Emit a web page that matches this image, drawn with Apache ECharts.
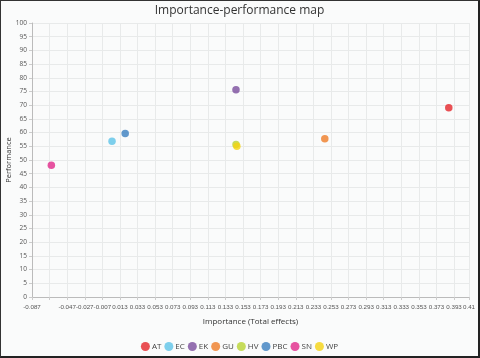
<!DOCTYPE html>
<html><head><meta charset="utf-8">
<script src="https://cdn.jsdelivr.net/npm/echarts@6/dist/echarts.min.js"></script>
<style>
html,body{margin:0;padding:0;background:#fff;}
#c{width:480px;height:358px;box-sizing:border-box;border-top:1px solid #333;border-left:1px solid #333;border-right:2px solid #222;border-bottom:2px solid #222;background:#fafbfb;}
</style></head>
<body><div id="c"></div>
<script>
const names = ['AT','EC','EK','GU','HV','PBC','SN','WP'];
const importance = [0.387, 0.004, 0.145, 0.246, 0.145, 0.019, -0.065, 0.146];
const performance = [69.1, 56.8, 75.6, 57.8, 55.7, 59.7, 48.1, 55.0];
const colors = ['#e5262b','#5ec4e8','#7b4d9e','#ef7d28','#b9d433','#3b7fc0','#e1298a','#f5d312'];
const xMin = -0.087, xMax = 0.41, xStep = 0.02;
const yTicks = [0,5,10,15,20,25,30,35,40,45,50,55,60,65,70,75,80,85,90,95,100];
const hiddenXLabels = ['-0.067'];

const chart = echarts.init(document.getElementById('c'));
const series = names.map((n,i)=>({
  name:n, type:'scatter', symbolSize:7.5,
  itemStyle:{color:colors[i]},
  data:[[importance[i], performance[i]]]
}));
chart.setOption({
  animation:false,
  color:colors,
  textStyle:{fontFamily:'Open Sans'},
  title:{text:'Importance-performance map', left:'center', top:-1,
    textStyle:{fontSize:12,fontWeight:'normal',color:'#333',fontFamily:'Open Sans'}},
  grid:{left:31,right:9,top:22,bottom:59,outerBoundsMode:'none',containLabel:false},
  legend:{bottom:0,left:'center',icon:'circle',itemWidth:9,itemHeight:9,itemGap:3,
    textStyle:{fontSize:8,color:'#444',padding:[0,0,0,-3]}, data:names},
  xAxis:{type:'value',min:xMin,max:xMax,interval:xStep,
    name:'Importance (Total effects)',nameLocation:'middle',nameGap:21,nameMoveOverlap:false,
    nameTextStyle:{fontSize:8,color:'#333'},
    axisLine:{show:true,onZero:false,lineStyle:{color:'#bbb'}},
    axisTick:{show:true,length:3,lineStyle:{color:'#ccc'}},
    splitLine:{show:true,lineStyle:{color:'#e8eaea'}},
    axisLabel:{fontSize:6.2,fontFamily:'Liberation Sans',color:'#555',margin:7,showMaxLabel:true,showMinLabel:true,hideOverlap:false,
      formatter:v=>{const s=String(parseFloat(v.toFixed(3)));return hiddenXLabels.includes(s)?'':s;}}},
  yAxis:{type:'value',min:yTicks[0],max:yTicks[yTicks.length-1],interval:5,
    name:'Performance',nameLocation:'middle',nameGap:19,nameMoveOverlap:false,
    nameTextStyle:{fontSize:7.5,color:'#333'},
    axisLine:{show:true,onZero:false,lineStyle:{color:'#bbb'}},
    axisTick:{show:true,length:3,lineStyle:{color:'#ccc'}},
    splitLine:{show:true,lineStyle:{color:'#e8eaea'}},
    axisLabel:{fontSize:6.5,color:'#555',margin:5}},
  series:series
});
</script></body></html>
